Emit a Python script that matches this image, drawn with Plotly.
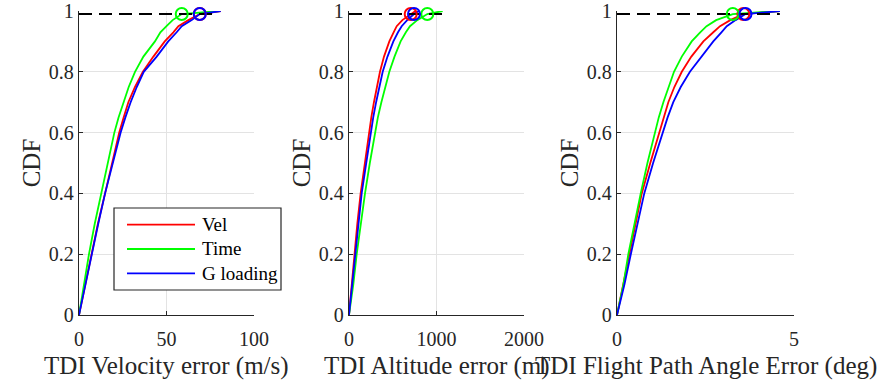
import plotly.graph_objects as go

# Probability levels (CDF values) at which quantiles were read
P = [0, 0.1, 0.2, 0.3, 0.4, 0.5, 0.6, 0.65, 0.7, 0.75, 0.8, 0.85, 0.9, 0.93, 0.95, 0.97, 0.99, 1.0]
P99 = 0.99

# Panel 1: TDI Velocity error (m/s)
vel_vel = [0, 3.5, 7.0, 10.8, 14.9, 18.8, 23.0, 25.5, 28.2, 32.0, 36.5, 42.5, 49.0, 53.9, 56.8, 62.5, 69.0, 81.0]
vel_time = [0, 2.8, 5.7, 9.0, 12.6, 16.2, 20.2, 22.6, 25.3, 28.4, 32.0, 36.8, 43.4, 46.5, 50.0, 53.5, 58.7, 80.0]
vel_g = [0, 3.6, 7.2, 11.0, 14.9, 19.2, 23.8, 26.5, 29.5, 33.0, 37.0, 44.4, 51.0, 55.8, 58.7, 64.4, 69.0, 81.0]
vel_dash_end = 80

# Panel 2: TDI Altitude error (m)
alt_vel = [0, 31, 57, 95, 133, 180, 225, 255, 285, 318, 354, 400, 461, 510, 545, 610, 705, 760]
alt_time = [0, 49, 88, 135, 183, 238, 295, 330, 370, 412, 461, 520, 590, 650, 697, 780, 895, 1070]
alt_g = [0, 38, 69, 106, 145, 197, 245, 277, 310, 345, 385, 440, 507, 560, 602, 665, 743, 800]
alt_dash_end = 1070

# Panel 3: TDI Flight Path Angle Error (deg)
fpa_vel = [0, 0.18, 0.34, 0.52, 0.70, 0.94, 1.20, 1.32, 1.45, 1.62, 1.83, 2.10, 2.44, 2.72, 2.91, 3.20, 3.57, 4.6]
fpa_time = [0, 0.18, 0.32, 0.49, 0.67, 0.86, 1.07, 1.18, 1.31, 1.45, 1.61, 1.83, 2.11, 2.35, 2.53, 2.80, 3.27, 4.6]
fpa_g = [0, 0.21, 0.39, 0.58, 0.77, 1.02, 1.29, 1.43, 1.59, 1.80, 2.06, 2.38, 2.72, 2.95, 3.10, 3.35, 3.63, 4.6]
fpa_dash_end = 4.6

series_names = ["Vel", "Time", "G loading"]
colors = ["#ff0000", "#00ff00", "#0000ff"]
x_titles = ["TDI Velocity error (m/s)", "TDI Altitude error (m)", "TDI Flight Path Angle Error (deg)"]

panels = [
    dict(data=[vel_vel, vel_time, vel_g], dash_end=vel_dash_end, xrange=[0, 100],
         ticks=[0, 50, 100], dom=[79, 254]),
    dict(data=[alt_vel, alt_time, alt_g], dash_end=alt_dash_end, xrange=[0, 2000],
         ticks=[0, 1000, 2000], dom=[349, 524]),
    dict(data=[fpa_vel, fpa_time, fpa_g], dash_end=fpa_dash_end, xrange=[0, 5],
         ticks=[0, 5], dom=[617, 794]),
]

W, H = 878, 386
FONT = "Liberation Serif"
AXC = "#262626"

fig = go.Figure()
layout = {}
annotations = []
for i, pn in enumerate(panels):
    k = "" if i == 0 else str(i + 1)
    xa, ya = "x" + k, "y" + k
    for j, d in enumerate(pn["data"]):
        fig.add_trace(go.Scatter(
            x=d, y=P, mode="lines", name=series_names[j],
            line=dict(color=colors[j], width=1.8),
            xaxis=xa, yaxis=ya, showlegend=False))
    fig.add_trace(go.Scatter(
        x=[0, pn["dash_end"]], y=[P99, P99], mode="lines",
        line=dict(color="black", width=2, dash="13px,7px"),
        xaxis=xa, yaxis=ya, showlegend=False, hoverinfo="skip"))
    for j, d in enumerate(pn["data"]):
        fig.add_trace(go.Scatter(
            x=[d[P.index(P99)]], y=[P99], mode="markers",
            marker=dict(symbol="circle-open", size=12, color=colors[j],
                        line=dict(width=2, color=colors[j])),
            cliponaxis=False, xaxis=xa, yaxis=ya, showlegend=False))
    layout["xaxis" + k] = dict(
        domain=[pn["dom"][0] / W, pn["dom"][1] / W], range=pn["xrange"],
        tickvals=pn["ticks"], ticks="inside", ticklen=4, tickcolor=AXC,
        showline=True, linecolor=AXC, linewidth=1.3, mirror=False,
        showgrid=True, gridcolor="#e3e3e3", gridwidth=1, zeroline=False,
        anchor=ya, automargin=False, ticklabelstandoff=6,
        tickfont=dict(family=FONT, size=20, color=AXC))
    layout["yaxis" + k] = dict(
        domain=[(H - 315) / H, (H - 11) / H], range=[0, 1],
        tickvals=[0, 0.2, 0.4, 0.6, 0.8, 1], ticktext=["0", "0.2", "0.4", "0.6", "0.8", "1"],
        ticks="inside", ticklen=4, tickcolor=AXC,
        showline=True, linecolor=AXC, linewidth=1.3, mirror=False,
        showgrid=True, gridcolor="#e3e3e3", gridwidth=1, zeroline=False,
        anchor=xa, automargin=False,
        tickfont=dict(family=FONT, size=20, color=AXC),
        title=dict(text="CDF", font=dict(family=FONT, size=25, color=AXC), standoff=1))
    annotations.append(dict(
        xref="x" + k + " domain", yref="paper", x=0.5, y=1 - 366 / H,
        xanchor="center", yanchor="middle", showarrow=False, text=x_titles[i],
        font=dict(family=FONT, size=25, color=AXC)))

# Manual legend (box, line samples, labels) in the first panel
leg_box = [114, 208, 281, 290]
leg_rows = [224.7, 249.0, 273.3]
shapes = [dict(type="rect", xref="paper", yref="paper",
               x0=leg_box[0] / W, x1=leg_box[2] / W,
               y0=1 - leg_box[3] / H, y1=1 - leg_box[1] / H,
               line=dict(color=AXC, width=1.2), fillcolor="white", layer="above")]
for j, name in enumerate(series_names):
    yy = 1 - leg_rows[j] / H
    shapes.append(dict(type="line", xref="paper", yref="paper",
                       x0=127 / W, x1=195 / W, y0=yy, y1=yy,
                       line=dict(color=colors[j], width=1.8), layer="above"))
    annotations.append(dict(xref="paper", yref="paper", x=200 / W, y=yy,
                            xanchor="left", yanchor="middle", showarrow=False,
                            text=name, font=dict(family=FONT, size=19, color="black")))

fig.update_layout(
    width=W, height=H, margin=dict(l=0, r=0, t=0, b=0),
    paper_bgcolor="white", plot_bgcolor="white", showlegend=False,
    shapes=shapes, annotations=annotations,
    **layout)

fig.write_html("out.html")
